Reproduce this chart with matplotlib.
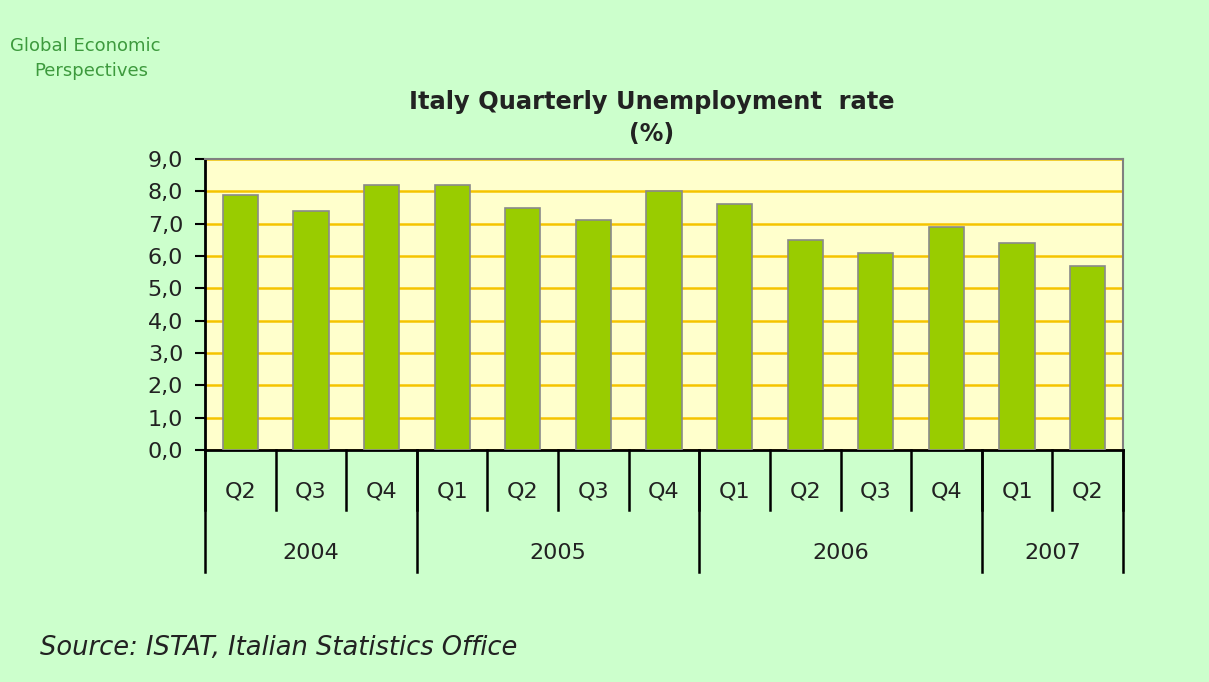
import matplotlib.pyplot as plt
import numpy as np

# quarterly unemployment rate, Italy (%)
quarters = ['Q2', 'Q3', 'Q4', 'Q1', 'Q2', 'Q3', 'Q4', 'Q1', 'Q2', 'Q3', 'Q4', 'Q1', 'Q2']
years = ['2004', '2005', '2006', '2007']
quarters_per_year = [3, 4, 4, 2]
rate = [7.9, 7.4, 8.2, 8.2, 7.5, 7.1, 8.0, 7.6, 6.5, 6.1, 6.9, 6.4, 5.7]

W, H = 1209, 682
fig = plt.figure(figsize=(W / 100, H / 100), dpi=100, facecolor='#ccffcc')
plt.rcParams['font.family'] = 'DejaVu Sans'
txt = '#222222'

# plot area in pixel terms
left, right, top, bottom = 205, 1123, 159, 450
ax = fig.add_axes([left / W, 1 - bottom / H, (right - left) / W, (bottom - top) / H])
ax.set_facecolor('#ffffcc')

x = np.arange(len(rate))
ax.bar(x, rate, width=0.5, color='#99cc00', edgecolor='#8a8a8a', linewidth=1.2, zorder=3)

ax.set_xlim(-0.5, len(rate) - 0.5)
ax.set_ylim(0, 9)
ax.set_yticks(np.arange(0, 10, 1))
ax.set_yticklabels([f'{v:.1f}'.replace('.', ',') for v in range(10)], fontsize=16, color=txt)
ax.yaxis.grid(True, color='#f5c400', linewidth=1.8, zorder=1)
ax.set_axisbelow(True)
ax.tick_params(axis='y', length=7.2, width=1.5, color='black', pad=8.5)
ax.set_xticks([])

for side in ['top', 'right']:
    ax.spines[side].set_color('#808080')
    ax.spines[side].set_linewidth(1.5)
for side in ['left', 'bottom']:
    ax.spines[side].set_color('black')
    ax.spines[side].set_linewidth(2)

# multi-level category axis
trans = ax.get_xaxis_transform()
px = 1 / (bottom - top)
q_depth = -60 * px
y_depth = -122 * px
for i in range(len(rate) + 1):
    ax.plot([i - 0.5, i - 0.5], [0, q_depth], color='black', lw=1.8, transform=trans, clip_on=False)
for i, q in enumerate(quarters):
    ax.text(i, -41 * px, q, transform=trans, ha='center', va='center', fontsize=16, color=txt)

start = 0
for yr, n in zip(years, quarters_per_year):
    ax.plot([start - 0.5, start - 0.5], [0, y_depth], color='black', lw=1.8, transform=trans, clip_on=False)
    ax.text(start + (n - 1) / 2, -103 * px, yr, transform=trans, ha='center', va='center',
            fontsize=16, color=txt)
    start += n
ax.plot([start - 0.5, start - 0.5], [0, y_depth], color='black', lw=1.8, transform=trans, clip_on=False)

# titles and notes
fig.text(652 / W, 1 - 102 / H, 'Italy Quarterly Unemployment  rate', ha='center', va='center',
         fontsize=17.4, fontweight='bold', color=txt)
fig.text(652 / W, 1 - 134 / H, '(%)', ha='center', va='center',
         fontsize=17, fontweight='bold', color=txt)
fig.text(10 / W, 1 - 46 / H, 'Global Economic', ha='left', va='center',
         fontsize=13, color='#3d9a3d')
fig.text(34 / W, 1 - 71 / H, 'Perspectives', ha='left', va='center',
         fontsize=13, color='#3d9a3d')
fig.text(40 / W, 1 - 648 / H, 'Source: ISTAT, Italian Statistics Office', ha='left', va='center',
         fontsize=18.5, style='italic', color=txt)

fig.savefig('out.png', dpi=100, facecolor=fig.get_facecolor())
